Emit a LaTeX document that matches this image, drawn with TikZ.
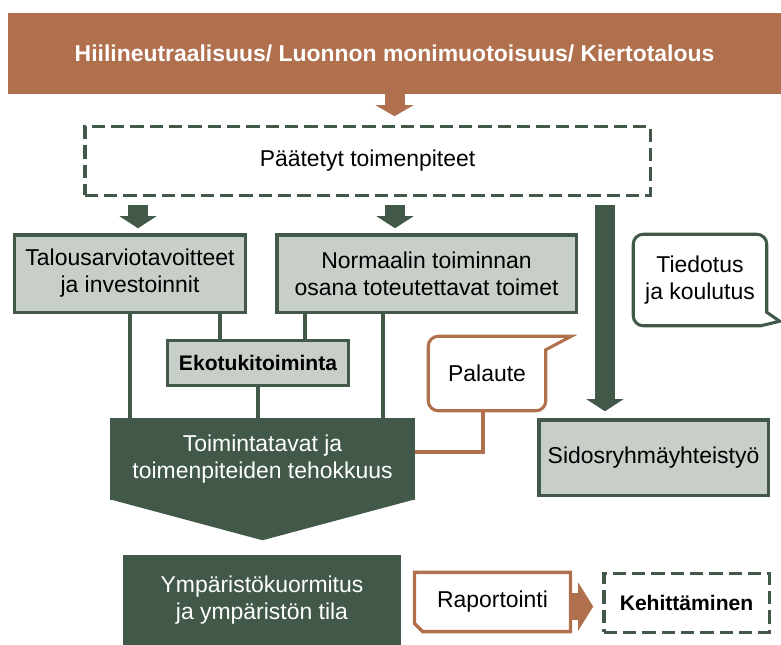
\documentclass[tikz,border=0pt]{standalone}
\usepackage{fontspec}
\setmainfont{Liberation Sans}
\usetikzlibrary{arrows.meta,calc,positioning}
\definecolor{dgreen}{HTML}{42594A}
\definecolor{lgray}{HTML}{C8CEC8}
\definecolor{rust}{HTML}{B0704D}
\newcommand{\bodyfont}{\fontsize{17.2}{20.25}\selectfont}
\newcommand{\strongfont}{\fontsize{15.8}{20.25}\selectfont\bfseries}
\newcommand{\bannerfont}{\fontsize{17.2}{20.25}\selectfont\bfseries}

\begin{document}
\begin{tikzpicture}[x=0.75pt,y=-0.75pt,
  every node/.style={inner sep=0pt,align=center,font=\bodyfont},
  graybox/.style={draw=dgreen,line width=2.6pt,fill=lgray},
  dashbox/.style={draw=dgreen,line width=2.6pt,dash pattern=on 10pt off 4.5pt,fill=white},
  darkbox/.style={fill=dgreen,text=white},
  gline/.style={dgreen,line width=3pt},
  bline/.style={rust,line width=2.3pt},
  gcall/.style={dgreen,line width=2.3pt},
  garrow/.style={dgreen,line width=15pt,-{Triangle[width=27.75pt,length=9pt,line width=0pt]}},
  barrow/.style={rust,line width=15pt,-{Triangle[width=28.5pt,length=8.25pt,line width=0pt]}},
  rarrow/.style={rust,line width=20.25pt,-{Triangle[width=36pt,length=11.25pt,line width=0pt]}}]
\useasboundingbox (0,0) rectangle (781,644);

% boxes
\node[fill=rust,text=white,minimum width=579.75pt,minimum height=60.75pt,font=\bannerfont] (hiili) at (394.5,53.5) {Hiilineutraalisuus/ Luonnon monimuotoisuus/ Kiertotalous};
\node[dashbox,minimum width=424.1pt,minimum height=51.4pt] (paat) at (367.5,161) {Päätetyt toimenpiteet};
\node[graybox,minimum width=172.9pt,minimum height=58.1pt] (talous) at (130,273.5) {Talousarviotavoitteet\\ja investoinnit};
\node[graybox,minimum width=224.6pt,minimum height=58.1pt] (normaali) at (426.5,273.5) {Normaalin toiminnan\\osana toteutettavat toimet};
\node[graybox,minimum width=135.4pt,minimum height=33.4pt,font=\strongfont] (ekotuki) at (258,363) {Ekotukitoiminta};
\node[darkbox,minimum width=228.75pt,minimum height=61.5pt] (toiminta) at (262.5,459) {Toimintatavat ja\\toimenpiteiden tehokkuus};
\fill[dgreen] ($(toiminta.south west)+(0,-1)$) -- ($(toiminta.south east)+(0,-1)$) -- ($(toiminta.south)+(0,40)$) -- cycle;
\node[darkbox,minimum width=208.5pt,minimum height=67.5pt] (ymparisto) at (262,600) {Ympäristökuormitus\\ja ympäristön tila};
\node[graybox,minimum width=172.1pt,minimum height=56.6pt] (sidos) at (653.5,457.5) {Sidosryhmäyhteistyö};
\node[minimum width=87.75pt,minimum height=55.5pt] (palaute) at (487,373.5) {Palaute};
\node[minimum width=99.75pt,minimum height=68.25pt] (tiedotus) at (700,280) {Tiedotus\\ja koulutus};
\node[minimum width=116.6pt,minimum height=43.9pt] (raport) at (492.5,602) {Raportointi};
\node[dashbox,minimum width=124.1pt,minimum height=43.9pt,font=\strongfont] (kehit) at (686.5,603) {Kehittäminen};

% callouts
\draw[bline] (palaute.west) [rounded corners=7.5pt] -- (palaute.north west) -- (palaute.north) [sharp corners]
  -- ($(palaute.north east)+(25.5,0)$) -- ($(palaute.north east)+(0,13.5)$) -- ($(palaute.east)+(0,5)$)
  [rounded corners=7.5pt] -- (palaute.south east) -- (palaute.south west) -- cycle;
\draw[gcall] (tiedotus.west) [rounded corners=7.5pt] -- (tiedotus.north west) -- (tiedotus.north east) -- (tiedotus.east) [sharp corners]
  -- ($(tiedotus.south east)+(0,-13.5)$) -- ($(tiedotus.south east)+(13,-4.5)$) -- ($(tiedotus.south east)+(-6,0)$) -- (tiedotus.south)
  [rounded corners=7.5pt] -- (tiedotus.south west) -- cycle;
\draw[rust,line width=2.6pt] (raport.north west) -- (raport.north east) -- (raport.south east)
  -- ($(raport.south west)+(8,0)$) -- ($(raport.south west)+(0,-8)$) -- cycle;

% arrows
\draw[barrow,shorten >=6.6pt] (hiili.south) -- (hiili.south |- paat.north);
\draw[garrow,shorten <=5.8pt,shorten >=3.6pt] ([xshift=6pt]talous.north |- paat.south) -- ([xshift=6pt]talous.north);
\draw[garrow,shorten <=5.8pt,shorten >=3.6pt] ([xshift=-23.6pt]normaali.north |- paat.south) -- ([xshift=-23.6pt]normaali.north);
\draw[garrow,shorten <=5.8pt,shorten >=5.1pt] ([xshift=-36.4pt]sidos.north |- paat.south) -- ([xshift=-36.4pt]sidos.north);
\draw[rarrow,shorten >=6.6pt] ([yshift=-3.4pt]raport.east) -- ([yshift=-3.4pt]raport.east -| kehit.west);

% connectors
\path[gline]
(talous.south) edge (talous.south |- toiminta.north)
([xshift=-28.5pt]ekotuki.north) edge ([xshift=-28.5pt]ekotuki.north |- talous.south)
([xshift=35.25pt]ekotuki.north) edge ([xshift=35.25pt]ekotuki.north |- normaali.south)
(ekotuki.south) edge (ekotuki.south |- toiminta.north)
([xshift=-32.6pt]normaali.south) edge ([xshift=-32.6pt]normaali.south |- toiminta.north);
\draw[bline] ([xshift=-3pt]palaute.south) |- ([yshift=5.25pt]toiminta.east);
\end{tikzpicture}
\end{document}
